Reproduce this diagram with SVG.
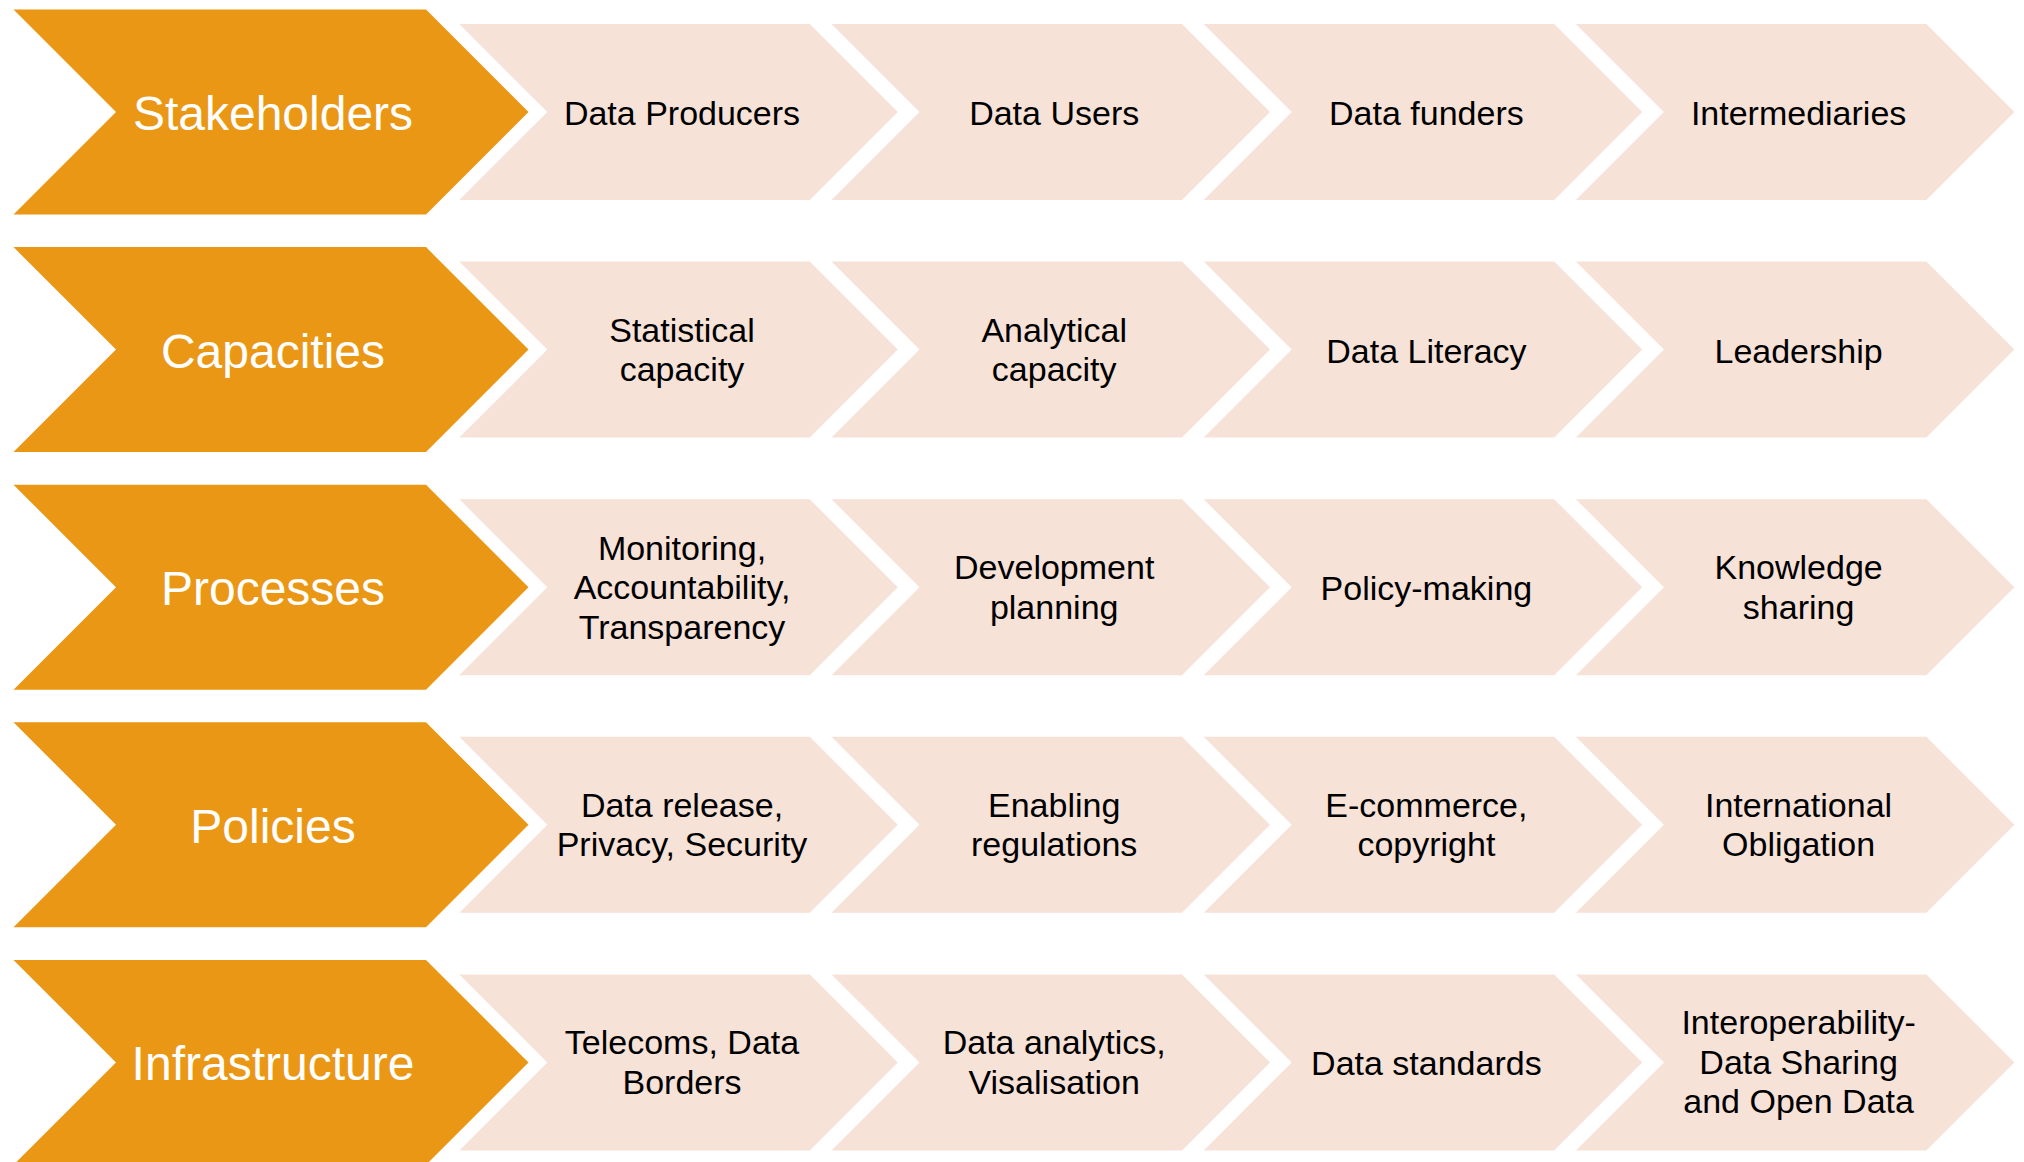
<svg xmlns="http://www.w3.org/2000/svg" xmlns:xlink="http://www.w3.org/1999/xlink" width="2024" height="1162" viewBox="0 0 2024 1162">
<style>
.hd{fill:#EB9716}
.it{fill:#F7E2D8}
.ht{font-family:"Liberation Sans",Arial,sans-serif;font-size:48px;fill:#FFFFFF;text-anchor:middle}
.tt{font-family:"Liberation Sans",Arial,sans-serif;font-size:34px;fill:#000000;text-anchor:middle}
</style>
<defs>
<polygon id="hdShape" points="13.5,-102.5 426,-102.5 528.5,0 426,102.5 13.5,102.5 116,0"/>
<polygon id="itShape" points="0,-88 350.5,-88 438.5,0 350.5,88 0,88 88,0"/>
</defs>
<rect width="2024" height="1162" fill="#FFFFFF"/>
<g id="connectors"/>

<!-- Row 1 -->
<g id="row-stakeholders" transform="translate(0,112)">
<g id="n-stakeholders"><use href="#hdShape" class="hd"/><text class="ht" x="273" y="18">Stakeholders</text></g>
<g id="n-data-producers"><use href="#itShape" class="it" x="459.3"/><text class="tt" x="682" y="13">Data Producers</text></g>
<g id="n-data-users"><use href="#itShape" class="it" x="831.5"/><text class="tt" x="1054.2" y="13">Data Users</text></g>
<g id="n-data-funders"><use href="#itShape" class="it" x="1203.7"/><text class="tt" x="1426.4" y="13">Data funders</text></g>
<g id="n-intermediaries"><use href="#itShape" class="it" x="1575.9"/><text class="tt" x="1798.6" y="13">Intermediaries</text></g>
</g>

<!-- Row 2 -->
<g id="row-capacities" transform="translate(0,349.6)">
<g id="n-capacities"><use href="#hdShape" class="hd"/><text class="ht" x="273" y="18">Capacities</text></g>
<g id="n-statistical"><use href="#itShape" class="it" x="459.3"/><text class="tt" x="682" y="-8"><tspan x="682">Statistical</tspan><tspan x="682" y="31.5">capacity</tspan></text></g>
<g id="n-analytical"><use href="#itShape" class="it" x="831.5"/><text class="tt" x="1054.2" y="-8"><tspan x="1054.2">Analytical</tspan><tspan x="1054.2" y="31.5">capacity</tspan></text></g>
<g id="n-data-literacy"><use href="#itShape" class="it" x="1203.7"/><text class="tt" x="1426.4" y="13">Data Literacy</text></g>
<g id="n-leadership"><use href="#itShape" class="it" x="1575.9"/><text class="tt" x="1798.6" y="13">Leadership</text></g>
</g>

<!-- Row 3 -->
<g id="row-processes" transform="translate(0,587.2)">
<g id="n-processes"><use href="#hdShape" class="hd"/><text class="ht" x="273" y="18">Processes</text></g>
<g id="n-monitoring"><use href="#itShape" class="it" x="459.3"/><text class="tt" x="682" y="-27.5"><tspan x="682">Monitoring,</tspan><tspan x="682" y="12">Accountability,</tspan><tspan x="682" y="52">Transparency</tspan></text></g>
<g id="n-development"><use href="#itShape" class="it" x="831.5"/><text class="tt" x="1054.2" y="-8"><tspan x="1054.2">Development</tspan><tspan x="1054.2" y="31.5">planning</tspan></text></g>
<g id="n-policy-making"><use href="#itShape" class="it" x="1203.7"/><text class="tt" x="1426.4" y="13">Policy-making</text></g>
<g id="n-knowledge"><use href="#itShape" class="it" x="1575.9"/><text class="tt" x="1798.6" y="-8"><tspan x="1798.6">Knowledge</tspan><tspan x="1798.6" y="31.5">sharing</tspan></text></g>
</g>

<!-- Row 4 -->
<g id="row-policies" transform="translate(0,824.8)">
<g id="n-policies"><use href="#hdShape" class="hd"/><text class="ht" x="273" y="18">Policies</text></g>
<g id="n-data-release"><use href="#itShape" class="it" x="459.3"/><text class="tt" x="682" y="-8"><tspan x="682">Data release,</tspan><tspan x="682" y="31.5">Privacy, Security</tspan></text></g>
<g id="n-enabling"><use href="#itShape" class="it" x="831.5"/><text class="tt" x="1054.2" y="-8"><tspan x="1054.2">Enabling</tspan><tspan x="1054.2" y="31.5">regulations</tspan></text></g>
<g id="n-ecommerce"><use href="#itShape" class="it" x="1203.7"/><text class="tt" x="1426.4" y="-8"><tspan x="1426.4">E-commerce,</tspan><tspan x="1426.4" y="31.5">copyright</tspan></text></g>
<g id="n-international"><use href="#itShape" class="it" x="1575.9"/><text class="tt" x="1798.6" y="-8"><tspan x="1798.6">International</tspan><tspan x="1798.6" y="31.5">Obligation</tspan></text></g>
</g>

<!-- Row 5 -->
<g id="row-infrastructure" transform="translate(0,1062.4)">
<g id="n-infrastructure"><use href="#hdShape" class="hd"/><text class="ht" x="273" y="18">Infrastructure</text></g>
<g id="n-telecoms"><use href="#itShape" class="it" x="459.3"/><text class="tt" x="682" y="-8"><tspan x="682">Telecoms, Data</tspan><tspan x="682" y="31.5">Borders</tspan></text></g>
<g id="n-analytics"><use href="#itShape" class="it" x="831.5"/><text class="tt" x="1054.2" y="-8"><tspan x="1054.2">Data analytics,</tspan><tspan x="1054.2" y="31.5">Visalisation</tspan></text></g>
<g id="n-standards"><use href="#itShape" class="it" x="1203.7"/><text class="tt" x="1426.4" y="13">Data standards</text></g>
<g id="n-interoperability"><use href="#itShape" class="it" x="1575.9"/><text class="tt" x="1798.6" y="-28"><tspan x="1798.6">Interoperability-</tspan><tspan x="1798.6" y="11.5">Data Sharing</tspan><tspan x="1798.6" y="51">and Open Data</tspan></text></g>
</g>
</svg>
